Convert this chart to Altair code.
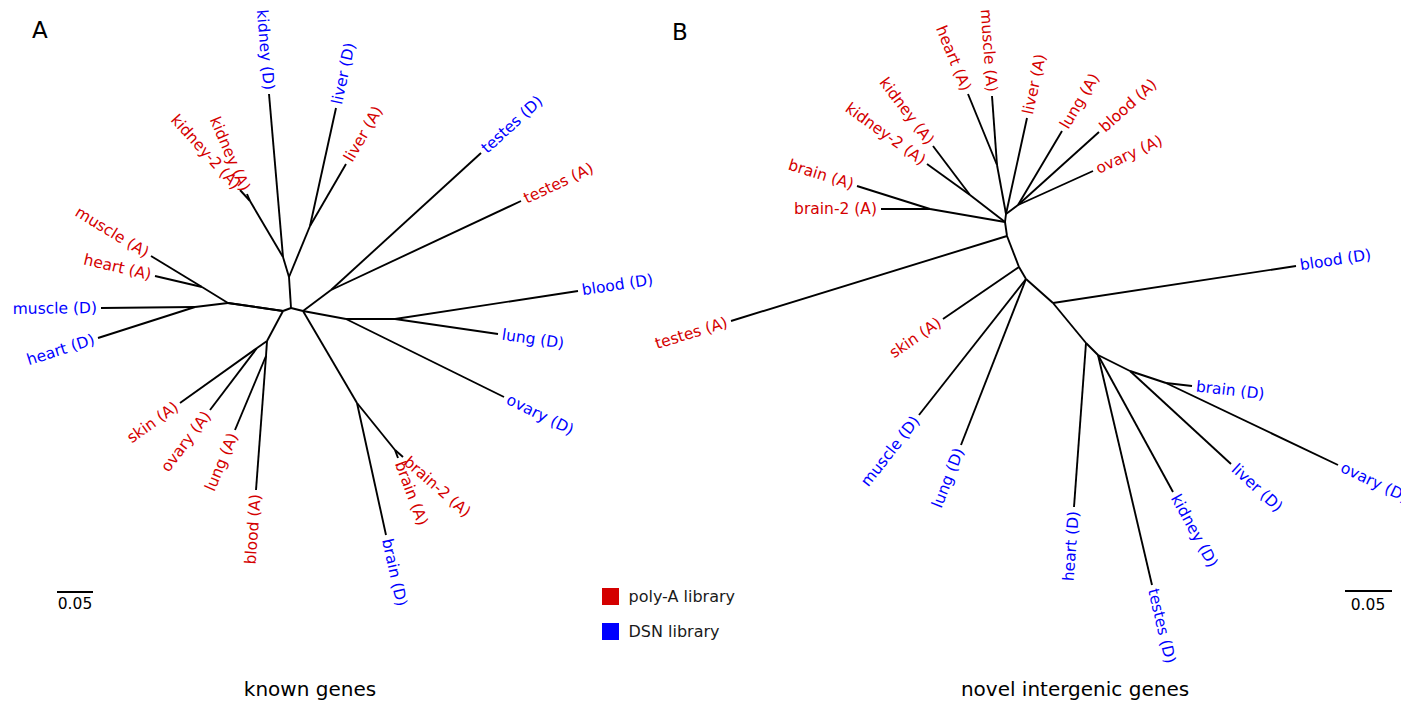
import math
import altair as alt
import pandas as pd

FONT = "DejaVu Sans"
RED = "#d40000"
BLUE = "#0000ff"

# ---------------- Tree A : known genes (node positions) -------------
A_nodes = ["a", "b", "c", "U", "K", "KA", "L", "Lf", "MH", "MD", "DL", "SO", "LB", "T", "R1", "R2", "BR", "BA",
           "kidney2A", "kidneyA", "kidneyD", "liverD", "liverA", "muscleA", "heartA", "muscleD", "heartD",
           "skinA", "ovaryA", "lungA", "bloodA", "testesD", "testesA", "bloodD", "lungD", "ovaryD",
           "brainD", "brain2A", "brainA"]
A_x = [283, 291, 303, 289, 283, 250, 310, 228, 202, 195, 267, 257, 266, 331, 346, 395, 357, 395,
       240, 247, 269, 336, 346, 151, 155, 101, 98,
       180, 210, 235, 256, 481, 521, 578, 498, 504,
       386, 403, 398]
A_y = [311, 308, 311, 277, 257, 201, 226, 303, 287, 307, 341, 348, 356, 290, 319, 319, 403, 450,
       190, 194, 94, 108, 164, 256, 276, 308, 338,
       403, 410, 430, 490, 153, 201, 291, 334, 397,
       535, 457, 458]
A_parent = ["b", "b", "b", "a", "U", "U", "K", "K", "KA", "KA", "L", "L", "Lf", "Lf", "Lf", "MH", "MH", "MD", "MD",
            "a", "DL", "DL", "SO", "SO", "LB", "LB", "c", "T", "T", "c", "R1", "R1", "R2", "R2",
            "c", "BR", "BR", "BA", "BA"]
A_child = ["a", "c", "U", "Lf", "K", "L", "KA", "kidneyD", "kidney2A", "kidneyA", "liverD", "liverA",
           "a", "MH", "MD", "muscleA", "heartA", "muscleD", "heartD",
           "DL", "SO", "LB", "skinA", "ovaryA", "lungA", "bloodA", "T", "testesD", "testesA", "R1", "R2", "ovaryD",
           "bloodD", "lungD", "BR", "brainD", "BA", "brain2A", "brainA"]
A_leaves = ["kidney2A", "kidneyA", "kidneyD", "liverD", "liverA", "muscleA", "heartA", "muscleD", "heartD",
            "skinA", "ovaryA", "lungA", "bloodA", "testesD", "testesA", "bloodD", "lungD", "ovaryD",
            "brainD", "brain2A", "brainA"]
A_labels = ["kidney-2 (A)", "kidney (A)", "kidney (D)", "liver (D)", "liver (A)", "muscle (A)", "heart (A)",
            "muscle (D)", "heart (D)", "skin (A)", "ovary (A)", "lung (A)", "blood (A)", "testes (D)",
            "testes (A)", "blood (D)", "lung (D)", "ovary (D)", "brain (D)", "brain-2 (A)", "brain (A)"]

# ---------------- Tree B : novel intergenic genes -------------
B_nodes = ["TB", "T2", "HM", "LBO", "KB", "BB", "n1", "n2", "n3", "n4", "n5", "n6", "n7", "n8",
           "heartA", "muscleA", "liverA", "lungA", "bloodA", "ovaryA", "kidneyA", "kidney2A", "brainA", "brain2A",
           "testesA", "skinA", "muscleD", "lungD", "bloodD", "heartD", "testesD", "kidneyD", "liverD",
           "brainD", "ovaryD"]
B_x = [1005, 1006, 997, 1018, 970, 930, 1007, 1019, 1026, 1053, 1086, 1098, 1130, 1166,
       968, 992, 1027, 1062, 1099, 1093, 933, 927, 857, 881,
       731, 943, 919, 961, 1296, 1074, 1152, 1173, 1231,
       1192, 1338]
B_y = [222, 214, 165, 205, 195, 209, 236, 267, 279, 303, 343, 355, 371, 383,
       94, 96, 118, 131, 132, 171, 146, 164, 186, 209,
       321, 319, 415, 445, 266, 507, 585, 492, 464,
       386, 465]
B_parent = ["TB", "TB", "TB", "TB", "T2", "T2", "T2", "HM", "HM", "LBO", "LBO", "LBO", "KB", "KB", "BB", "BB",
            "n1", "n1", "n2", "n2", "n3", "n3", "n3", "n4", "n4", "n5", "n5", "n6", "n6", "n6",
            "n7", "n7", "n8", "n8"]
B_child = ["T2", "KB", "BB", "n1", "HM", "liverA", "LBO", "heartA", "muscleA", "lungA", "bloodA", "ovaryA",
           "kidneyA", "kidney2A", "brainA", "brain2A",
           "testesA", "n2", "skinA", "n3", "muscleD", "lungD", "n4", "bloodD", "n5", "heartD", "n6",
           "testesD", "kidneyD", "n7", "liverD", "n8", "brainD", "ovaryD"]
B_leaves = ["heartA", "muscleA", "liverA", "lungA", "bloodA", "ovaryA", "kidneyA", "kidney2A", "brainA",
            "brain2A", "testesA", "skinA", "muscleD", "lungD", "bloodD", "heartD", "testesD", "kidneyD",
            "liverD", "brainD", "ovaryD"]
B_labels = ["heart (A)", "muscle (A)", "liver (A)", "lung (A)", "blood (A)", "ovary (A)", "kidney (A)",
            "kidney-2 (A)", "brain (A)", "brain-2 (A)", "testes (A)", "skin (A)", "muscle (D)", "lung (D)",
            "blood (D)", "heart (D)", "testes (D)", "kidney (D)", "liver (D)", "brain (D)", "ovary (D)"]

# ---------------- annotations -------------
scalebar_x = [57, 1345]
scalebar_x2 = [93, 1392]
scalebar_y = [592, 591]
scalebar_text = ["0.05", "0.05"]
scalebar_text_x = [75, 1368]
scalebar_text_y = [604, 605]

legend_libs = ["poly-A", "DSN"]
legend_texts = ["poly-A library", "DSN library"]
legend_x = [610.5, 610.5]
legend_y = [596.5, 631.5]

panel_letters = ["A", "B"]
panel_x = [32, 672]
panel_y = [31, 33]

titles = ["known genes", "novel intergenic genes"]
title_x = [310, 1075]
title_y = [690, 690]


def build(nodes, xs, ys, parents, children, leaves, labels):
    pos = {n: (x, y) for n, x, y in zip(nodes, xs, ys)}
    par = {c: p for p, c in zip(parents, children)}
    edges = pd.DataFrame([
        {"x": pos[p][0], "y": pos[p][1], "x2": pos[c][0], "y2": pos[c][1]}
        for p, c in zip(parents, children)
    ])
    rows = []
    for n, lab in zip(leaves, labels):
        px, py = pos[par[n]]
        x, y = pos[n]
        th = math.degrees(math.atan2(y - py, x - px))
        if -90 < th <= 90:
            side, ang = "left", th % 360
        else:
            side, ang = "right", (th + 180) % 360
        rows.append({"x": x, "y": y, "label": lab, "side": side, "ang": ang,
                     "lib": "poly-A" if lab.endswith("(A)") else "DSN"})
    return edges, pd.DataFrame(rows)


eA, lA = build(A_nodes, A_x, A_y, A_parent, A_child, A_leaves, A_labels)
eB, lB = build(B_nodes, B_x, B_y, B_parent, B_child, B_leaves, B_labels)
edges = pd.concat([eA, eB], ignore_index=True)
leaf = pd.concat([lA, lB], ignore_index=True)

W, H = 1393, 693
xs = alt.Scale(domain=[8, 8 + W], nice=False, zero=False)
ys = alt.Scale(domain=[8, 8 + H], nice=False, zero=False, reverse=True)
cs = alt.Scale(domain=["poly-A", "DSN"], range=[RED, BLUE])

X = lambda f: alt.X(f, type="quantitative", scale=xs, axis=None)
Y = lambda f: alt.Y(f, type="quantitative", scale=ys, axis=None)

rules = alt.Chart(edges).mark_rule(color="black", strokeWidth=1.9).encode(
    x=X("x"), y=Y("y"), x2="x2", y2="y2")

lab_left = alt.Chart(leaf[leaf.side == "left"]).mark_text(
    align="left", baseline="middle", dx=4, font=FONT, fontSize=15.5).encode(
    x=X("x"), y=Y("y"), text="label:N", angle=alt.Angle("ang:Q", scale=None),
    color=alt.Color("lib:N", scale=cs, legend=None))
lab_right = alt.Chart(leaf[leaf.side == "right"]).mark_text(
    align="right", baseline="middle", dx=-4, font=FONT, fontSize=15.5).encode(
    x=X("x"), y=Y("y"), text="label:N", angle=alt.Angle("ang:Q", scale=None),
    color=alt.Color("lib:N", scale=cs, legend=None))

sb = pd.DataFrame({"x": scalebar_x, "x2": scalebar_x2, "y": scalebar_y,
                   "t": scalebar_text, "tx": scalebar_text_x, "ty": scalebar_text_y})
sb_rule = alt.Chart(sb).mark_rule(color="black", strokeWidth=2).encode(x=X("x"), x2="x2", y=Y("y"))
sb_text = alt.Chart(sb).mark_text(font=FONT, fontSize=15.5, color="black", baseline="middle").encode(
    x=X("tx"), y=Y("ty"), text="t:N")

lg = pd.DataFrame({"lib": legend_libs, "t": legend_texts, "x": legend_x, "y": legend_y})
lg_sq = alt.Chart(lg).mark_square(size=289, opacity=1, filled=True).encode(
    x=X("x"), y=Y("y"), color=alt.Color("lib:N", scale=cs, legend=None))
lg_tx = alt.Chart(lg).mark_text(font=FONT, fontSize=16, color="#1a1a1a", align="left",
                                baseline="middle", dx=18).encode(x=X("x"), y=Y("y"), text="t:N")

pl = pd.DataFrame({"t": panel_letters, "x": panel_x, "y": panel_y})
pl_tx = alt.Chart(pl).mark_text(font=FONT, fontSize=23, color="black", align="left",
                                baseline="middle").encode(x=X("x"), y=Y("y"), text="t:N")

tt = pd.DataFrame({"t": titles, "x": title_x, "y": title_y})
tt_tx = alt.Chart(tt).mark_text(font=FONT, fontSize=20, color="black", baseline="middle").encode(
    x=X("x"), y=Y("y"), text="t:N")

chart = alt.layer(rules, lab_left, lab_right, sb_rule, sb_text, lg_sq, lg_tx, pl_tx, tt_tx).properties(
    width=W, height=H, padding=0, autosize=alt.AutoSizeParams(type="none"),
    background="white").configure_view(stroke=None)

chart.save("out.html", embed_options={"renderer": "svg", "actions": False})
